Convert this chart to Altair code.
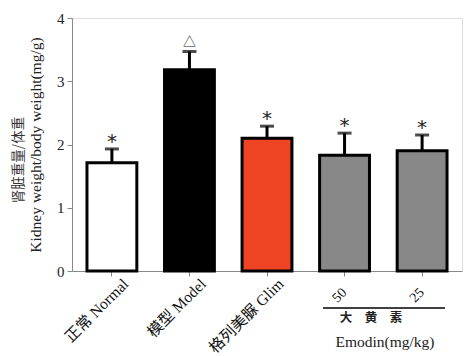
import altair as alt
import pandas as pd

groups = ["正常 Normal", "模型 Model", "格列美脲 Glim", "50", "25"]
means = [1.71, 3.18, 2.10, 1.83, 1.90]
err_top = [1.93, 3.47, 2.29, 2.18, 2.15]
sig = ["*", "", "*", "*", "*"]
tri = ["", "△", "", "", ""]
fills = ["#ffffff", "#000000", "#ee4423", "#888888", "#888888"]
y_ticks = [0, 1, 2, 3, 4]
y_title_en = "Kidney weight/body weight(mg/g)"
y_title_zh = "肾脏重量/体重"
group_label = "大　黄　素"
unit_label = "Emodin(mg/kg)"

df = pd.DataFrame({"group": groups, "mean": means, "top": err_top,
                   "sig": sig, "tri": tri, "fill": fills})

FONT = "Liberation Serif, Noto Sans CJK SC"
W, H = 390, 253
IS_NUM = "(datum.value == '50' || datum.value == '25')"

x = alt.X("group:N", sort=groups,
          scale=alt.Scale(paddingInner=0.357, paddingOuter=0.193),
          axis=alt.Axis(title=None, labelAngle=-45,
                        labelFontSize=alt.ExprRef(expr=f"{IS_NUM} ? 14 : 15.5"),
                        labelAlign=alt.ExprRef(expr=f"{IS_NUM} ? 'center' : 'right'"),
                        labelBaseline=alt.ExprRef(expr=f"{IS_NUM} ? 'middle' : 'top'"),
                        labelOffset=alt.ExprRef(expr=f"{IS_NUM} ? -5 : 9"),
                        labelPadding=alt.ExprRef(expr=f"{IS_NUM} ? 19 : 0"),
                        labelFont=FONT, labelColor="#111", grid=False))
y = alt.Y("mean:Q", scale=alt.Scale(domain=[0, 4], nice=False),
          axis=alt.Axis(values=y_ticks, format="d", title=y_title_en,
                        titleFont=FONT, titleFontSize=15.5,
                        titleFontWeight="normal", titleColor="#222",
                        titlePadding=13, labelFontSize=15, labelFont=FONT,
                        labelColor="#222", labelPadding=3, grid=False))

base = alt.Chart(df)

bars = base.mark_bar(stroke="black", strokeWidth=3).encode(
    x=x, y=y, fill=alt.Fill("fill:N", scale=None))
err = base.mark_rule(strokeWidth=3, color="black").encode(
    x=x, y="mean:Q", y2="top:Q")
cap = base.mark_tick(thickness=3, size=14, color="black").encode(
    x=x, y="top:Q")
stars = base.mark_text(fontSize=20, font="DejaVu Sans", dy=-7, color="#222",
                       baseline="middle").encode(x=x, y="top:Q", text="sig:N")
tris = base.mark_text(fontSize=13, font="Noto Sans CJK SC", dy=-10,
                      color="#222").encode(x=x, y="top:Q", text="tri:N")

zh_title = alt.Chart(pd.DataFrame({"t": [y_title_zh]})).mark_text(
    fontSize=13.5, font="Noto Sans CJK SC", angle=270, color="#333",
    align="center", baseline="middle").encode(
    x=alt.value(-53), y=alt.value(142), text="t:N")

line = alt.Chart(pd.DataFrame({"a": [0]})).mark_rule(strokeWidth=1.5, color="black").encode(
    x=alt.value(251), x2=alt.value(373), y=alt.value(H + 37))
txt1 = alt.Chart(pd.DataFrame({"t": [group_label]})).mark_text(
    fontSize=12.5, fontWeight="bold", font="Noto Sans CJK SC", color="#222").encode(
    x=alt.value(299), y=alt.value(H + 47), text="t:N")
txt2 = alt.Chart(pd.DataFrame({"t": [unit_label]})).mark_text(
    fontSize=15.5, font="Liberation Serif", color="#222").encode(
    x=alt.value(313), y=alt.value(H + 71), text="t:N")

chart = alt.layer(bars, err, cap, stars, tris, zh_title, line, txt1, txt2).properties(
    width=W, height=H, autosize=alt.AutoSizeParams(type="none"),
    padding={"left": 64, "top": 10, "right": 1, "bottom": 100}
).configure_view(stroke=None).configure_axis(
    domainColor="black", domainWidth=2.5, tickColor="black", tickWidth=2.5,
    tickSize=6, grid=False
).configure(background="white")

chart.save("out.html", embed_options={"renderer": "svg", "actions": False})
